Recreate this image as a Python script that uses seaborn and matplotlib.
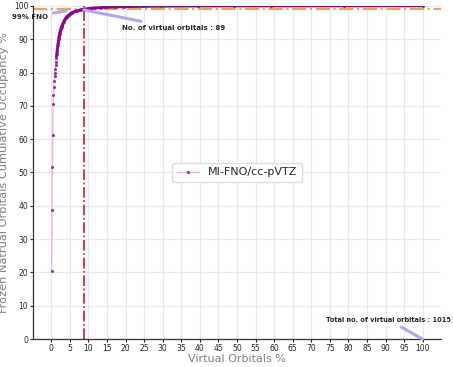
"""Cumulative occupancy of frozen natural orbitals (MI-FNO/cc-pVTZ)."""

import numpy as np
import pandas as pd
import matplotlib
matplotlib.use("Agg")
import matplotlib.pyplot as plt
import seaborn as sns

# number of virtual orbitals kept (out of 1015) and cumulative occupancy %
n_virtual = 1015
n_fno = 89
orbitals = [1, 2, 3, 4, 5, 6, 7, 8, 9, 10,
            11, 12, 13, 14, 15, 16, 17, 18, 19, 20,
            21, 22, 23, 24, 25, 26, 27, 28, 29, 30,
            32, 34, 36, 38, 40, 42, 44, 46, 48, 50,
            52, 54, 56, 58, 60, 65, 70, 75, 80, 85,
            89, 95, 100, 110, 120, 135, 150, 175, 200, 250,
            300, 400, 500, 600, 800, 1015]
occupancy = [20.5, 38.7, 51.7, 61.3, 70.5, 73.4, 75.6, 77.5, 78.9, 79.9,
             81.0, 82.3, 83.3, 84.5, 85.6, 86.6, 87.5, 88.4, 89.2, 90.0,
             90.6, 91.2, 91.7, 92.2, 92.6, 93.0, 93.4, 93.7, 94.0, 94.3,
             94.8, 95.3, 95.7, 96.1, 96.4, 96.7, 96.9, 97.1, 97.3, 97.5,
             97.65, 97.8, 97.93, 98.05, 98.15, 98.38, 98.55, 98.7, 98.82, 98.93,
             99.0, 99.1, 99.18, 99.3, 99.4, 99.5, 99.58, 99.68, 99.75, 99.84,
             99.9, 99.95, 99.97, 99.985, 99.995, 100.0]
threshold = 99

x_ticks = list(range(0, 101, 5))
y_ticks = list(range(0, 101, 10))

df = pd.DataFrame({'orbitals': orbitals, 'occupancy': occupancy})
df['virtual_pct'] = df['orbitals'] / n_virtual * 100
fno_pct = n_fno / n_virtual * 100

sns.set_style('ticks')
plt.rcParams['font.family'] = ['DejaVu Sans']

fig = plt.figure(figsize=(4.53, 3.67), dpi=100)
ax = fig.add_axes([0.073, 0.076, 0.901, 0.908])

ax.grid(True, color='#e8e8e8', linewidth=0.9, zorder=0)
ax.set_axisbelow(True)

# main curve, faint line with dots
sns.lineplot(data=df, x='virtual_pct', y='occupancy', ax=ax,
             color='#e4b8e4', linewidth=1.0, marker='o', markersize=2.2,
             markerfacecolor='#9a2c9a', markeredgecolor='#9a2c9a',
             markeredgewidth=0, label='MI-FNO/cc-pVTZ', zorder=3)
# dense part of the curve reads as a solid band
dense = df[df['orbitals'] >= 14]
ax.plot(dense['virtual_pct'], dense['occupancy'], color='#86078a',
        linewidth=2.0, solid_capstyle='butt', zorder=3)

ax.axhline(threshold, color='#e0a56e', linestyle='-.', linewidth=1.6, zorder=2)
ax.axvline(fno_pct, color='#cc1f1f', linestyle='-.', linewidth=1.2, zorder=2)

arrow = dict(arrowstyle='-', color='#b0a8ee', lw=2.2, shrinkA=1, shrinkB=0)
ax.annotate('99% FNO', xy=(4.0, 98.5), xytext=(-5.6, 96.7),
            fontsize=5, fontweight='bold', ha='center', va='center',
            arrowprops=arrow, annotation_clip=False)
ax.annotate(f'No. of virtual orbitals : {n_fno}', xy=(fno_pct, 98.8),
            xytext=(33.0, 93.4), fontsize=5, fontweight='bold',
            ha='center', va='center', arrowprops=arrow, annotation_clip=False)
ax.annotate(f'Total no. of virtual orbitals : {n_virtual}', xy=(100, 0),
            xytext=(90.9, 5.7), fontsize=4.8, fontweight='bold',
            ha='center', va='center', arrowprops=arrow, annotation_clip=False)

ax.set_ylim(0, 100)
ax.set_xticks(x_ticks)
ax.set_yticks(y_ticks)
ax.tick_params(labelsize=5.5, length=2, width=0.8, pad=1.5)
ax.set_xlabel('Virtual Orbitals %', fontsize=8, color='#808080', labelpad=0.5)
ax.set_ylabel('Frozen Natrual Orbitals Cumulative Occupancy %', fontsize=8.2,
              color='#808080')
ax.yaxis.set_label_coords(-0.058, 0.5)
for side in ['left', 'bottom']:
    ax.spines[side].set_color('#333333')
    ax.spines[side].set_linewidth(0.9)
sns.despine(ax=ax)

ax.legend(loc='center', fontsize=8, handlelength=2.0, framealpha=1,
          edgecolor='#dddddd')

plt.savefig('out.png', dpi=100)
plt.close()
